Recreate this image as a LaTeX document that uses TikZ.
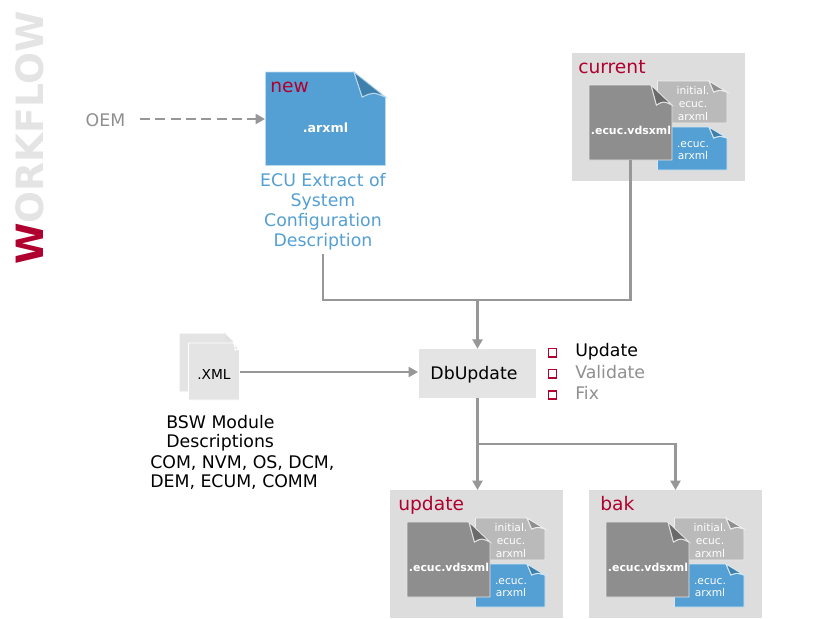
\documentclass[tikz,border=0pt]{standalone}
\usepackage{fontspec}
\setmainfont{DejaVu Sans}
\usetikzlibrary{arrows.meta}
\definecolor{brandred}{HTML}{B0002F}
\definecolor{docblue}{HTML}{549FD3}
\definecolor{foldblue}{HTML}{3F7FAB}
\definecolor{docgray}{HTML}{8E8E8E}
\definecolor{folddark}{HTML}{6A6A6A}
\definecolor{docsilver}{HTML}{BABABA}
\definecolor{foldsilver}{HTML}{8F8F8F}
\definecolor{boxgray}{HTML}{DDDDDD}
\definecolor{dbgray}{HTML}{E4E4E4}
\definecolor{linegray}{HTML}{979797}
\definecolor{textgray}{HTML}{8F8F8F}
\tikzset{
  x=0.75pt,y=-0.75pt,
  flow/.style={draw=linegray,line width=1.6pt},
  tip/.style={-{Triangle[length=7pt,width=7.5pt]}},
  pageedge/.style={draw=#1,line width=0.7pt,line join=miter},
  lbl/.style={inner sep=0pt,font=\fontsize{13}{15}\selectfont},
  grouplabel/.style={inner sep=0pt,anchor=base west,text=brandred,font=\fontsize{14}{16}\selectfont},
  small/.style={inner sep=0pt,text=white,align=center},
  check/.style={draw=brandred,fill=white,line width=0.8pt,minimum size=6pt,inner sep=0pt},
  checkbase/.style={draw=brandred,line width=1.4pt},
}
% name, x1,y1,x2,y2, foldx, foldy, fill, edge
\newcommand{\docpage}[9]{%
  \pgfmathsetmacro{\cxa}{#6+(#4-#6)*0.26}%
  \pgfmathsetmacro{\cxb}{#6+(#4-#6)*0.6}%
  \pgfmathsetmacro{\cyb}{#7-(#7-#3)*0.2}%
  \pgfmathsetmacro{\nw}{(#4-#2)*0.75}%
  \pgfmathsetmacro{\nh}{(#5-#3)*0.75}%
  \node[name=#1,anchor=north west,inner sep=0pt,outer sep=0pt,minimum width=\nw pt,minimum height=\nh pt] at (#2,#3) {};
  \path[pageedge=#9,fill=#8] (#2,#3) -- (#6,#3) -- (\cxa,#7) .. controls (\cxb,\cyb) .. (#4,#7) -- (#4,#5) -- (#2,#5) -- cycle;
  \path[pageedge=#9,fill=foldfillcol] (#6,#3) -- (#4,#7) .. controls (\cxb,\cyb) .. (\cxa,#7) -- cycle;
}
\newcommand{\fileset}[5]{%
  \begin{scope}[shift={(#2,#3)}]
    \node[name=box#1,anchor=north west,fill=boxgray,inner sep=0pt,minimum width=129.75pt,minimum height=96pt] at (572,53) {};
    \node[grouplabel] (lab#1) at (#5,73) {#4};
    \colorlet{foldfillcol}{foldsilver}
    \docpage{ini#1}{657.5}{81}{727}{123}{709}{92}{docsilver}{white!75!docsilver}
    \colorlet{foldfillcol}{foldblue}
    \docpage{ecu#1}{657.5}{127}{727}{170}{709}{138}{docblue}{white!75!docblue}
    \colorlet{foldfillcol}{folddark}
    \docpage{dark#1}{589}{85}{672}{160}{651}{105}{docgray}{white!75!docgray}
    \node[small,font=\fontsize{8}{9.75}\selectfont] (initxt#1) at (693,104) {initial.\\ecuc.\\arxml};
    \node[small,font=\fontsize{8}{9}\selectfont] (ecutxt#1) at (693,151) {.ecuc.\\arxml};
    \node[small,font=\bfseries\fontsize{8.2}{10}\selectfont,anchor=center] (drk#1) at (631,130.5) {.ecuc.vdsxml};
  \end{scope}
}
\begin{document}
\begin{tikzpicture}
\useasboundingbox (0,0) rectangle (817,618);

% title
\node[rotate=90,anchor=west,inner sep=0pt,font=\bfseries\fontsize{28.2}{30}\selectfont,text=dbgray] (title) at (30,265) {\textcolor{brandred}{W}ORKFLOW};

% source
\node[lbl,text=textgray] (oem) at (105.5,120) {OEM};

% new document
\colorlet{foldfillcol}{foldblue}
\docpage{newdoc}{265.5}{72}{385.5}{165.5}{354}{97}{docblue}{white!60!docblue}
\node[grouplabel] (newlab) at (270,92) {new};
\node[inner sep=0pt,text=white,font=\fontsize{9.5}{11}\selectfont\bfseries] (arxml) at (325.5,128) {.arxml};
\node[lbl,text=docblue,align=center] (desc) at (323,212) {ECU Extract of\\System\\Configuration\\Description};

% file sets
\fileset{cur}{0}{0}{current}{578}
\fileset{upd}{-182}{437}{update}{580}
\fileset{bak}{17}{437}{bak}{583}

% xml documents
\colorlet{foldfillcol}{boxgray}
\docpage{xmlback}{180}{334}{232}{391}{225}{341}{dbgray}{dbgray}
\docpage{xmlfront}{188.5}{343}{239.5}{400}{234}{350}{dbgray}{white}
\node[inner sep=0pt,font=\fontsize{10.3}{12}\selectfont] (xmltxt) at (214,374) {.XML};
\node[lbl,align=left,anchor=north west,font=\fontsize{13}{14.3}\selectfont] (bsw) at (166,415) {BSW Module\\Descriptions};
\node[lbl,align=left,anchor=north west,font=\fontsize{13}{14.3}\selectfont] (mods) at (150,455) {COM, NVM, OS, DCM,\\DEM, ECUM, COMM};

% tool
\node[name=db,fill=dbgray,inner sep=0pt,minimum width=87.75pt,minimum height=36.75pt] at (477.5,373.5) {};
\node[lbl] (dbtxt) at (474,374.5) {DbUpdate};

% steps
\node[check] (c1) at (552.5,352.5) {};
\node[check] (c2) at (552.5,373.5) {};
\node[check] (c3) at (552.5,395) {};
\draw[checkbase] (c1.south west) -- (c1.south east);
\draw[checkbase] (c2.south west) -- (c2.south east);
\draw[checkbase] (c3.south west) -- (c3.south east);
\node[lbl,anchor=base west] (s1) at (575,356.5) {Update};
\node[lbl,anchor=base west,text=textgray] (s2) at (575,378.5) {Validate};
\node[lbl,anchor=base west,text=textgray] (s3) at (575,399.5) {Fix};

% connectors
\coordinate (merge) at (477.5,300);
\coordinate (split) at (477.5,444);
\coordinate (oemend) at (265,119);
\coordinate (oemstart) at (140,119);
\coordinate (xmlstart) at (240,372);
\coordinate (xmlend) at (418,372);
\coordinate (updtop) at (477.5,490);
\coordinate (baktop) at (675.5,490);
\coordinate (descbot) at (323,254);
\draw[flow] (descbot) |- (merge);
\draw[flow] (darkcur.south) |- (merge);
\draw[flow,tip] (merge) -- (db.north);
\draw[flow,tip] (db.south) -- (updtop);
\draw[flow,tip] (split) -| (baktop);
\draw[flow,line width=1.4pt,tip] (xmlstart) -- (xmlend);
\draw[draw=linegray,line width=1.4pt,dash pattern=on 7.5pt off 4pt,tip] (oemstart) -- (oemend);
\end{tikzpicture}
\end{document}
